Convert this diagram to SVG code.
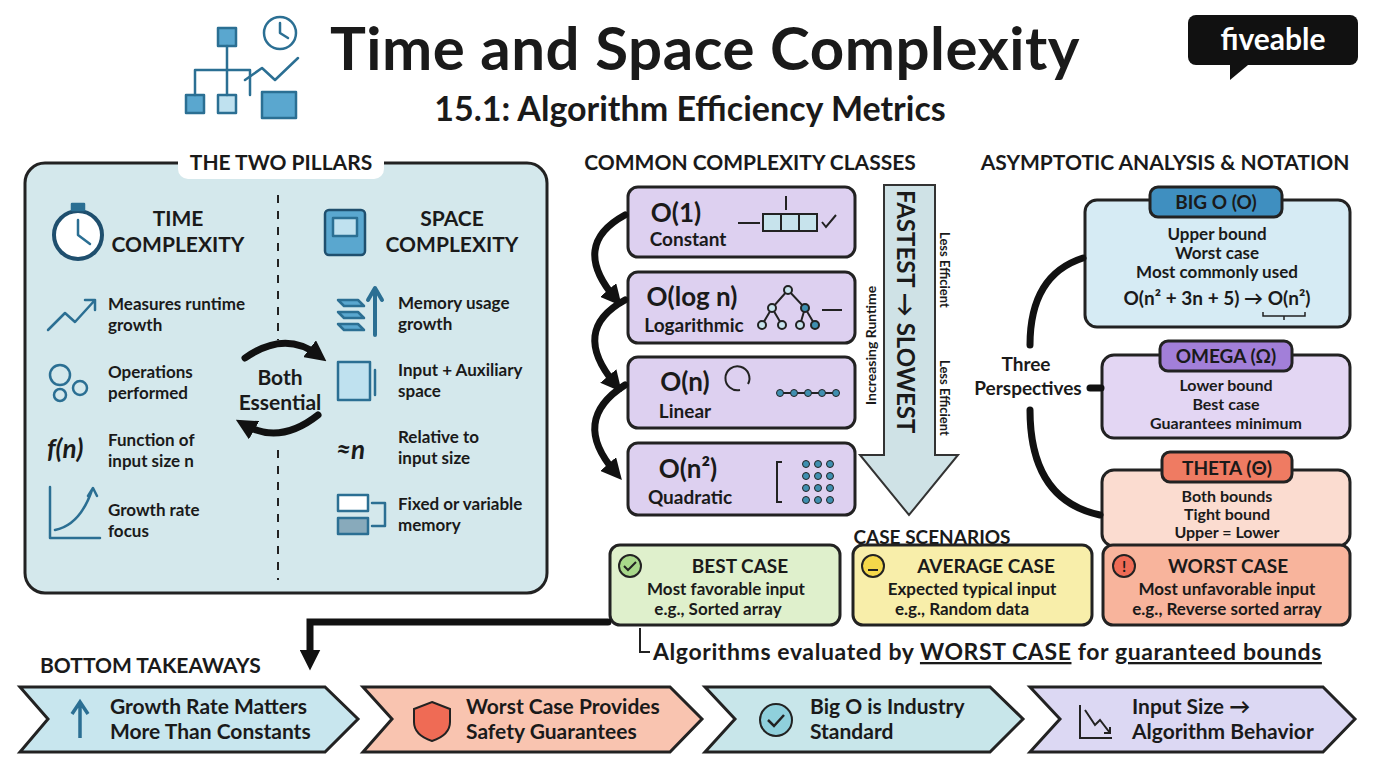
<svg xmlns="http://www.w3.org/2000/svg" width="1376" height="768" viewBox="0 0 1376 768">
<defs>
<style>
text{font-family:"Lato","Liberation Sans",sans-serif;fill:#1a1a1a}
.b{font-weight:700}
.box{stroke:#222;stroke-width:3}
.con{fill:none;stroke:#111;stroke-width:7;stroke-linecap:round}
.ic{fill:none;stroke:#2b6f93;stroke-width:2.5;stroke-linecap:round;stroke-linejoin:round}
.hd{font-size:21px;font-weight:700}
.it{font-size:17px;font-weight:700}
.nt{font-size:16px;font-weight:700}
.cx{font-size:26px;font-weight:700}
.cl{font-size:19px;font-weight:700}
.cs{font-size:19px;font-weight:700}
.tk{font-size:21px;font-weight:700}
</style>
<marker id="ah" viewBox="0 0 10 10" refX="5" refY="5" markerWidth="3" markerHeight="3" orient="auto"><path d="M0,0 L10,5 L0,10 z" fill="#111"/></marker>
</defs>
<rect width="1376" height="768" fill="#fff"/>

<g id="title">
<g class="ic" stroke-width="3">
<rect x="218" y="28" width="18" height="18" fill="#5aa7cf"/>
<rect x="186" y="95" width="18" height="18" fill="#5aa7cf"/>
<rect x="218" y="95" width="18" height="18" fill="#bfe1ef"/>
<path d="M227,46 V70 M195,70 H250 M195,70 V95 M227,70 V95 M250,70 V95"/>
<circle cx="280" cy="33" r="16" fill="#fff"/><path d="M280,23 V33 L288,38"/>
<path d="M245,80 L262,68 L275,80 L298,58"/>
<rect x="262" y="92" width="34" height="26" fill="#5aa7cf"/>
</g>
<text x="705" y="70" text-anchor="middle" class="b" font-size="60" letter-spacing="0.5">Time and Space Complexity</text>
<text x="690" y="121" text-anchor="middle" class="b" font-size="34">15.1: Algorithm Efficiency Metrics</text>
<rect x="1188" y="15" width="170" height="50" rx="8" fill="#111"/>
<path d="M1230,65 L1230,80 L1248,65 z" fill="#111"/>
<text x="1273" y="50" text-anchor="middle" class="b" font-size="30" style="fill:#fff">fiveable</text>
</g>

<g id="pillars">
<rect x="25" y="163" width="522" height="430" rx="20" fill="#d4e8ec" class="box"/>
<rect x="178" y="147" width="206" height="32" rx="10" fill="#fff"/>
<text x="281" y="170" text-anchor="middle" class="hd">THE TWO PILLARS</text>
<path d="M278,195 V340 M278,450 V580" stroke="#222" stroke-width="2" stroke-dasharray="8 8"/>
<g class="ic">
<circle cx="78" cy="235" r="24" fill="#fff" stroke="#1f4f6e" stroke-width="4"/><path d="M78,220 V235 L90,244"/><rect x="72" y="204" width="12" height="6" fill="#2b6f93"/>
<rect x="325" y="210" width="40" height="45" rx="4" fill="#5aa7cf" stroke="#1f4f6e"/><rect x="333" y="218" width="24" height="18" fill="#bfe1ef"/>
<path d="M48,330 L65,313 L75,322 L95,300 M85,300 H95 V310"/>
<circle cx="60" cy="375" r="10"/><circle cx="80" cy="388" r="7"/><circle cx="60" cy="395" r="6"/>
<path d="M50,487 V538 H100 M55,530 Q80,525 92,490 M88,496 L93,488 L97,496"/>
<path d="M338,300 h20 l6,6 h-20z M338,312 h20 l6,6 h-20z M338,324 h20 l6,6 h-20z" fill="#5aa7cf"/>
<path d="M375,335 V290 M368,300 L375,288 L382,300" stroke-width="4"/>
<rect x="338" y="362" width="32" height="38" fill="#bfe1ef"/><path d="M375,395 V370"/>
<rect x="338" y="495" width="30" height="16" fill="#fff"/><rect x="338" y="518" width="30" height="16" fill="#8ab" /><path d="M372,503 H385 V526 H372"/>
</g>
<text x="178" y="226" text-anchor="middle" class="hd">TIME</text>
<text x="178" y="252" text-anchor="middle" class="hd">COMPLEXITY</text>
<text x="452" y="226" text-anchor="middle" class="hd">SPACE</text>
<text x="452" y="252" text-anchor="middle" class="hd">COMPLEXITY</text>
<text class="it"><tspan x="108" y="310">Measures runtime</tspan><tspan x="108" y="331">growth</tspan></text>
<text class="it"><tspan x="108" y="378">Operations</tspan><tspan x="108" y="399">performed</tspan></text>
<text x="47" y="458" font-size="26" font-style="italic" class="b">f(n)</text>
<text class="it"><tspan x="108" y="446">Function of</tspan><tspan x="108" y="467">input size n</tspan></text>
<text class="it"><tspan x="108" y="516">Growth rate</tspan><tspan x="108" y="537">focus</tspan></text>
<text class="it"><tspan x="398" y="309">Memory usage</tspan><tspan x="398" y="330">growth</tspan></text>
<text class="it"><tspan x="398" y="376">Input + Auxiliary</tspan><tspan x="398" y="397">space</tspan></text>
<text x="336" y="459" font-size="26" font-style="italic" class="b">≈n</text>
<text class="it"><tspan x="398" y="443">Relative to</tspan><tspan x="398" y="464">input size</tspan></text>
<text class="it"><tspan x="398" y="510">Fixed or variable</tspan><tspan x="398" y="531">memory</tspan></text>
<path d="M245,358 Q285,330 318,355" class="con" stroke-width="6" marker-end="url(#ah)"/>
<path d="M318,415 Q280,445 245,425" class="con" stroke-width="6" marker-end="url(#ah)"/>
<text x="280" y="385" text-anchor="middle" class="hd">Both</text>
<text x="280" y="410" text-anchor="middle" class="hd">Essential</text>
</g>

<g id="classes">
<text x="750" y="170" text-anchor="middle" class="hd">COMMON COMPLEXITY CLASSES</text>
<rect x="628" y="187" width="227" height="70" rx="10" fill="#ddd0f0" class="box"/>
<text x="676" y="222" text-anchor="middle" class="cx">O(1)</text><text x="688" y="246" text-anchor="middle" class="cl">Constant</text>
<rect x="628" y="272" width="227" height="71" rx="10" fill="#ddd0f0" class="box"/>
<text x="692" y="306" text-anchor="middle" class="cx">O(log n)</text><text x="694" y="332" text-anchor="middle" class="cl">Logarithmic</text>
<rect x="628" y="357" width="227" height="71" rx="10" fill="#ddd0f0" class="box"/>
<text x="685" y="391" text-anchor="middle" class="cx">O(n)</text><text x="685" y="418" text-anchor="middle" class="cl">Linear</text>
<rect x="628" y="443" width="227" height="72" rx="10" fill="#ddd0f0" class="box"/>
<text x="688" y="478" text-anchor="middle" class="cx">O(n²)</text><text x="690" y="504" text-anchor="middle" class="cl">Quadratic</text>
<g stroke="#222" stroke-width="2" fill="none">
<path d="M738,223 H760"/><rect x="763" y="214" width="54" height="17" fill="#c7e3ec"/><path d="M781,214 V231 M799,214 V231 M786,196 V210 M822,222 l4,5 l10,-12"/>
<path d="M788,290 L772,308 L762,325 M788,290 L805,308 L815,325 M772,308 L782,325 M805,308 L800,325"/>
<circle cx="788" cy="290" r="4" fill="#c7e3ec"/><circle cx="772" cy="308" r="4" fill="#c7e3ec"/><circle cx="805" cy="308" r="4" fill="#3f8fb0"/>
<circle cx="762" cy="325" r="4" fill="#c7e3ec"/><circle cx="782" cy="325" r="4" fill="#c7e3ec"/><circle cx="800" cy="325" r="4" fill="#c7e3ec"/><circle cx="815" cy="325" r="4" fill="#3f8fb0"/>
<path d="M822,310 H842"/>
<path d="M748,384 A12,12 0 1 0 740,390"/>
<path d="M780,393 H836"/>
<path d="M782,462 h-5 v40 h5"/>
</g>
<g fill="#3f8fb0" stroke="#222" stroke-width="1">
<circle cx="780" cy="393" r="3.5"/><circle cx="794" cy="393" r="3.5"/><circle cx="808" cy="393" r="3.5"/><circle cx="822" cy="393" r="3.5"/><circle cx="836" cy="393" r="3.5"/>
<circle cx="806" cy="464" r="3.5"/><circle cx="818" cy="464" r="3.5"/><circle cx="830" cy="464" r="3.5"/>
<circle cx="806" cy="476" r="3.5"/><circle cx="818" cy="476" r="3.5"/><circle cx="830" cy="476" r="3.5"/>
<circle cx="806" cy="488" r="3.5"/><circle cx="818" cy="488" r="3.5"/><circle cx="830" cy="488" r="3.5"/>
<circle cx="806" cy="500" r="3.5"/><circle cx="818" cy="500" r="3.5"/><circle cx="830" cy="500" r="3.5"/>
</g>
<path d="M884,185 H935 V455 H958 L909,515 L860,455 H884 Z" fill="#cfe2e6" stroke="#333" stroke-width="2"/>
<text transform="translate(897,190) rotate(90)" font-size="24" class="b">FASTEST → SLOWEST</text>
<text transform="translate(876,405) rotate(-90)" font-size="14" class="b">Increasing Runtime</text>
<text transform="translate(940,232) rotate(90)" font-size="13" class="b">Less Efficient</text>
<text transform="translate(940,360) rotate(90)" font-size="13" class="b">Less Efficient</text>
</g>

<g id="notation">
<text x="1165" y="170" text-anchor="middle" class="hd">ASYMPTOTIC ANALYSIS &amp; NOTATION</text>
<rect x="1085" y="200" width="265" height="127" rx="12" fill="#d6ebf4" class="box"/>
<rect x="1150" y="187" width="132" height="30" rx="8" fill="#3f8fc0" class="box"/>
<text x="1216" y="209" text-anchor="middle" class="cs">BIG O (O)</text>
<text x="1217" y="240" text-anchor="middle" class="it">Upper bound</text>
<text x="1217" y="259" text-anchor="middle" class="it">Worst case</text>
<text x="1217" y="278" text-anchor="middle" class="it">Most commonly used</text>
<text x="1217" y="305" text-anchor="middle" font-size="19" class="b">O(n² + 3n + 5) → O(n²)</text>
<path d="M1263,312 v4 h42 v-4 M1284,316 v4" stroke="#222" stroke-width="1.5" fill="none"/>
<rect x="1102" y="355" width="248" height="83" rx="12" fill="#e3d6f3" class="box"/>
<rect x="1160" y="341" width="132" height="30" rx="8" fill="#a27fd9" class="box"/>
<text x="1226" y="363" text-anchor="middle" class="cs">OMEGA (Ω)</text>
<text x="1226" y="391" text-anchor="middle" class="nt">Lower bound</text>
<text x="1226" y="410" text-anchor="middle" class="nt">Best case</text>
<text x="1226" y="429" text-anchor="middle" class="nt">Guarantees minimum</text>
<rect x="1102" y="470" width="248" height="76" rx="12" fill="#fbdcd0" class="box"/>
<rect x="1162" y="452" width="130" height="30" rx="8" fill="#ef7b62" class="box"/>
<text x="1227" y="475" text-anchor="middle" class="cs">THETA (Θ)</text>
<text x="1227" y="502" text-anchor="middle" class="nt">Both bounds</text>
<text x="1227" y="520" text-anchor="middle" class="nt">Tight bound</text>
<text x="1227" y="538" text-anchor="middle" class="nt">Upper = Lower</text>
<text x="1026" y="371" text-anchor="middle" class="cs">Three</text>
<text x="1028" y="395" text-anchor="middle" class="cs">Perspectives</text>
</g>

<g id="cases">
<text x="932" y="544" text-anchor="middle" class="cs">CASE SCENARIOS</text>
<rect x="610" y="545" width="230" height="80" rx="10" fill="#dff0cc" class="box"/>
<circle cx="630" cy="566" r="11" fill="#a8d88a" stroke="#222" stroke-width="2"/><path d="M624,566 l4,4 l8,-8" stroke="#222" stroke-width="2" fill="none"/>
<text x="740" y="573" text-anchor="middle" class="cs">BEST CASE</text>
<text x="726" y="595" text-anchor="middle" class="it">Most favorable input</text>
<text x="718" y="615" text-anchor="middle" class="it">e.g., Sorted array</text>
<rect x="853" y="545" width="239" height="80" rx="10" fill="#f8eeaa" class="box"/>
<circle cx="873" cy="566" r="11" fill="#f5d84a" stroke="#222" stroke-width="2"/><path d="M868,570 h10" stroke="#222" stroke-width="2"/>
<text x="986" y="573" text-anchor="middle" class="cs">AVERAGE CASE</text>
<text x="972" y="595" text-anchor="middle" class="it">Expected typical input</text>
<text x="962" y="615" text-anchor="middle" class="it">e.g., Random data</text>
<rect x="1103" y="545" width="247" height="80" rx="10" fill="#f8b49c" class="box"/>
<circle cx="1124" cy="566" r="11" fill="#ef6b55" stroke="#222" stroke-width="2"/><text x="1124" y="572" text-anchor="middle" font-size="15" class="b">!</text>
<text x="1228" y="573" text-anchor="middle" class="cs">WORST CASE</text>
<text x="1227" y="595" text-anchor="middle" class="it">Most unfavorable input</text>
<text x="1227" y="615" text-anchor="middle" class="it">e.g., Reverse sorted array</text>
<text x="653" y="660" font-size="23" class="b" letter-spacing="0.6">Algorithms evaluated by <tspan text-decoration="underline">WORST CASE</tspan> for <tspan text-decoration="underline">guaranteed bounds</tspan></text>
</g>

<g id="connectors">
<path d="M625,215 Q570,245 615,298" class="con" marker-end="url(#ah)"/>
<path d="M625,300 Q570,330 615,384" class="con" marker-end="url(#ah)"/>
<path d="M625,385 Q570,420 615,472" class="con" marker-end="url(#ah)"/>
<path d="M1083,258 Q1030,275 1030,345" class="con"/>
<path d="M1030,410 Q1030,500 1100,515" class="con"/>
<path d="M1090,388 H1101" class="con" stroke-width="5"/>
<path d="M608,622 H310 V660" class="con" stroke-width="6" marker-end="url(#ah)"/>
<path d="M640,628 V652 H650" fill="none" stroke="#222" stroke-width="2"/>
</g>

<g id="takeaways">
<text x="40" y="673" class="hd">BOTTOM TAKEAWAYS</text>
<path d="M20,687 H325 L358,719 L325,752 H20 L48,719 Z" fill="#c8e6ee" class="box"/>
<path d="M80,738 V705 M72,714 L80,702 L88,714" stroke="#2b6f93" stroke-width="3.5" fill="none"/>
<text x="110" y="714" class="tk">Growth Rate Matters</text><text x="110" y="739" class="tk">More Than Constants</text>
<path d="M363,687 H670 L702,719 L670,752 H363 L392,719 Z" fill="#f9c4b0" class="box"/>
<path d="M432,702 L450,709 V722 Q450,735 432,741 Q414,735 414,722 V709 Z" fill="#ef6b55" stroke="#222" stroke-width="2"/>
<text x="466" y="714" class="tk">Worst Case Provides</text><text x="466" y="739" class="tk">Safety Guarantees</text>
<path d="M705,687 H990 L1023,719 L990,752 H705 L735,719 Z" fill="#c8e6ea" class="box"/>
<circle cx="776" cy="720" r="16" fill="#8fd0dc" stroke="#222" stroke-width="2"/><path d="M768,720 l6,6 l10,-11" stroke="#222" stroke-width="2.5" fill="none"/>
<text x="810" y="714" class="tk">Big O is Industry</text><text x="810" y="739" class="tk">Standard</text>
<path d="M1030,687 H1323 L1355,719 L1323,752 H1030 L1060,719 Z" fill="#dcd8f3" class="box"/>
<path d="M1080,705 V738 H1112 M1085,710 L1095,725 L1100,720 L1110,733 M1104,733 H1110 V727" stroke="#222" stroke-width="2" fill="none"/>
<text x="1132" y="714" class="tk">Input Size →</text><text x="1132" y="739" class="tk">Algorithm Behavior</text>
</g>
</svg>
